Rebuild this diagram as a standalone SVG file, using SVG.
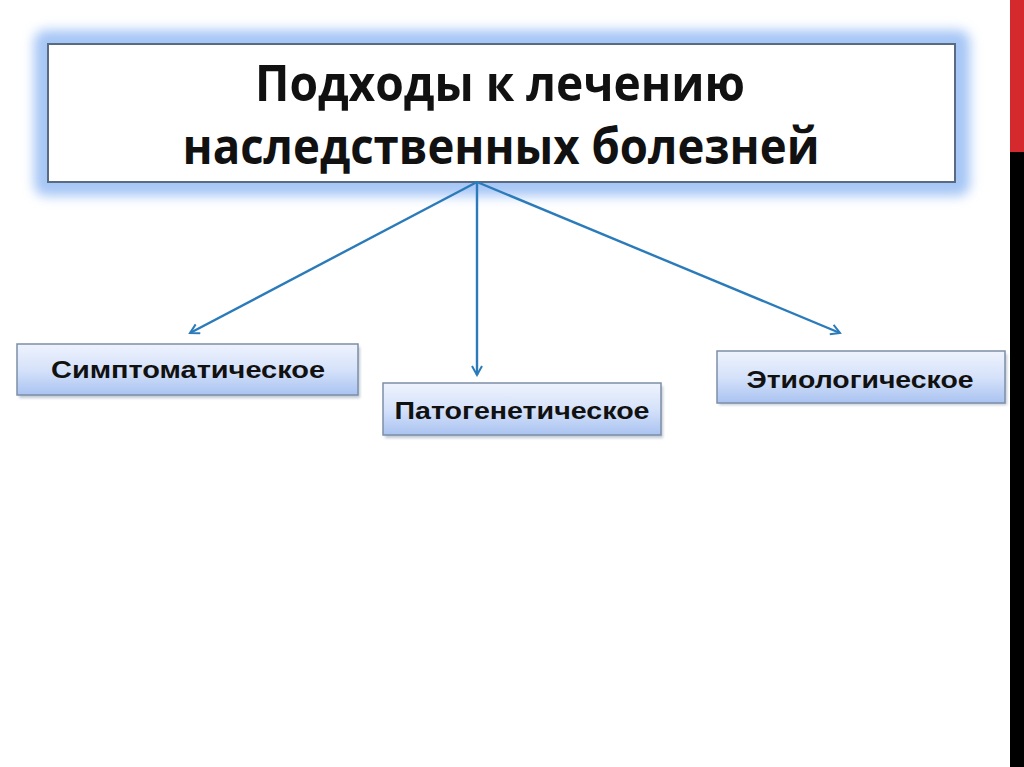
<svg xmlns="http://www.w3.org/2000/svg" width="1024" height="767" viewBox="0 0 1024 767">
<defs>
<style>
.title{font-family:"Open Sans","Liberation Sans",sans-serif;font-weight:bold;font-size:50px;fill:#111;}
.lbl{font-family:"Liberation Sans",Arial,sans-serif;font-weight:bold;font-size:24px;fill:#111;}
.nodebox{fill:url(#g);stroke:#7d8ea6;stroke-width:1.5;}
.conn{stroke:#2b7bba;stroke-width:2.4;fill:none;marker-end:url(#ah);}
</style>
<linearGradient id="g" x1="0" y1="0" x2="0" y2="1">
<stop offset="0" stop-color="#eef3fd"/>
<stop offset="0.5" stop-color="#d6e2fa"/>
<stop offset="1" stop-color="#a9c3f1"/>
</linearGradient>
<filter id="glow" x="-10%" y="-30%" width="120%" height="160%">
<feGaussianBlur stdDeviation="6"/>
</filter>
<filter id="sh" x="-10%" y="-20%" width="120%" height="160%">
<feGaussianBlur stdDeviation="1.5"/>
</filter>
<marker id="ah" viewBox="0 0 12 12" refX="10" refY="6" markerWidth="12" markerHeight="12" markerUnits="userSpaceOnUse" orient="auto">
<path d="M1,1 L10,6 L1,11" fill="none" stroke="#2b7bba" stroke-width="2"/>
</marker>
</defs>
<rect width="1024" height="767" fill="#ffffff"/>
<rect x="1010" y="0" width="14" height="152" fill="#d42a2e"/>
<rect x="1010" y="152" width="14" height="615" fill="#000000"/>

<g id="main">
<rect x="34" y="30" width="936" height="166" rx="12" fill="#a6c6f6" filter="url(#glow)"/>
<rect x="48" y="44" width="907" height="138" fill="#ffffff" stroke="#5a6a82" stroke-width="2"/>
<text class="title" x="500" y="101" text-anchor="middle" textLength="490" lengthAdjust="spacingAndGlyphs">Подходы к лечению</text>
<text class="title" x="501" y="164" text-anchor="middle" textLength="637" lengthAdjust="spacingAndGlyphs">наследственных болезней</text>
</g>

<g id="connectors">
<line class="conn" x1="477" y1="182" x2="190" y2="333"/>
<line class="conn" x1="477" y1="182" x2="477" y2="375"/>
<line class="conn" x1="477" y1="182" x2="840" y2="333"/>
</g>

<g id="symptomatic">
<rect x="19" y="347" width="341" height="51" fill="#8090a8" opacity="0.5" filter="url(#sh)"/>
<rect class="nodebox" x="17" y="344" width="341" height="51"/>
<text class="lbl" x="188" y="378" text-anchor="middle" textLength="274" lengthAdjust="spacingAndGlyphs">Симптоматическое</text>
</g>

<g id="pathogenetic">
<rect x="385" y="386" width="278" height="52" fill="#8090a8" opacity="0.5" filter="url(#sh)"/>
<rect class="nodebox" x="383" y="383" width="278" height="52"/>
<text class="lbl" x="522" y="419" text-anchor="middle" textLength="255" lengthAdjust="spacingAndGlyphs">Патогенетическое</text>
</g>

<g id="etiological">
<rect x="719" y="354" width="288" height="51" fill="#8090a8" opacity="0.5" filter="url(#sh)"/>
<rect class="nodebox" x="717" y="351" width="288" height="52"/>
<text class="lbl" x="860" y="388" text-anchor="middle" textLength="227" lengthAdjust="spacingAndGlyphs">Этиологическое</text>
</g>
</svg>
